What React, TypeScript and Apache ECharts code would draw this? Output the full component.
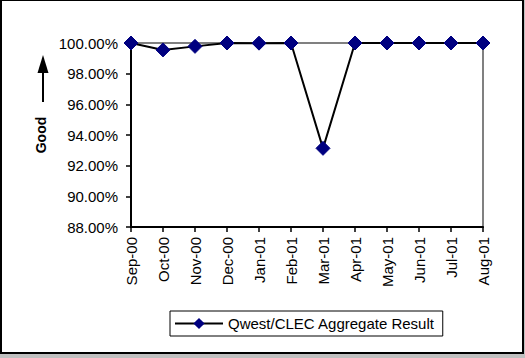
import React, { useEffect, useRef } from "react";
import * as echarts from "echarts";

const categories = ["Sep-00", "Oct-00", "Nov-00", "Dec-00", "Jan-01", "Feb-01", "Mar-01", "Apr-01", "May-01", "Jun-01", "Jul-01", "Aug-01"];
const aggregateValues = [100, 99.55, 99.78, 100, 99.99, 100, 93.13, 100, 100, 100, 100, 100];
const seriesName = "Qwest/CLEC Aggregate Result";
const yAxisTitle = "Good";
const yMin = 88;
const yMax = 100;
const yStep = 2;

export default function App() {
  const ref = useRef<HTMLDivElement>(null);
  useEffect(() => {
    document.body.style.margin = "0";
    if (!ref.current) return;
    const chart = echarts.init(ref.current, null, { renderer: "svg" });
    const font = "'Liberation Sans', Arial, sans-serif";
    chart.setOption({
      animation: false,
      backgroundColor: "#c0c0c0",
      textStyle: { fontFamily: font, color: "#000" },
      graphic: [
        {
          type: "rect",
          z: -10,
          shape: { x: 1, y: 0, width: 522, height: 353 },
          style: { fill: "#fff", stroke: "#000", lineWidth: 2 },
        },
        {
          type: "line",
          shape: { x1: 43, y1: 102, x2: 43, y2: 70 },
          style: { stroke: "#000", lineWidth: 2 },
        },
        {
          type: "polygon",
          shape: { points: [[43, 55], [37.5, 73], [48.5, 73]] },
          style: { fill: "#000" },
        },
      ],
      grid: {
        left: 131,
        right: 42,
        top: 43,
        bottom: 131,
        show: true,
        borderColor: "#808080",
        borderWidth: 2,
        backgroundColor: "transparent",
      },
      legend: {
        left: 170,
        top: 311,
        padding: [5, 8, 5, 4],
        itemWidth: 48,
        itemHeight: 14,
        itemGap: 5,
        borderColor: "#000",
        borderWidth: 1,
        borderRadius: 0,
        textStyle: { fontSize: 15, fontFamily: font, color: "#000" },
        data: [seriesName],
      },
      xAxis: {
        type: "category",
        data: categories,
        boundaryGap: false,
        axisLine: { lineStyle: { color: "#000", width: 2 } },
        axisTick: { show: true, length: 5, lineStyle: { color: "#000", width: 1.5 } },
        axisLabel: { rotate: 90, margin: 10, fontSize: 15, color: "#000", fontFamily: font, interval: 0 },
        splitLine: { show: false },
      },
      yAxis: {
        type: "value",
        min: yMin,
        max: yMax,
        interval: yStep,
        name: yAxisTitle,
        nameLocation: "middle",
        nameRotate: 90,
        nameGap: 82,
        nameTextStyle: { fontSize: 14, fontWeight: "bold", color: "#000", fontFamily: font },
        axisLine: { show: true, lineStyle: { color: "#000", width: 2 } },
        axisTick: { show: true, length: 5, lineStyle: { color: "#000", width: 1.5 } },
        axisLabel: {
          margin: 13,
          fontSize: 15,
          color: "#000",
          fontFamily: font,
          formatter: (v: number) => v.toFixed(2) + "%",
        },
        splitLine: { show: false },
      },
      series: [
        {
          name: seriesName,
          type: "line",
          data: aggregateValues,
          symbol: "diamond",
          symbolSize: 14,
          showAllSymbol: true,
          lineStyle: { color: "#000", width: 2 },
          itemStyle: { color: "#000080", borderColor: "#000080" },
          z: 5,
        },
      ],
    });
    return () => chart.dispose();
  }, []);
  return <div ref={ref} style={{ width: 525, height: 358 }} />;
}
